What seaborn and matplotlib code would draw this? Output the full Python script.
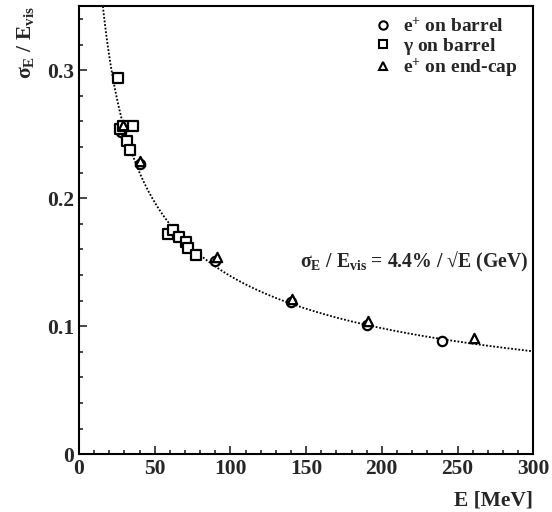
import numpy as np
import pandas as pd
import matplotlib
matplotlib.use('Agg')
import matplotlib.pyplot as plt
import seaborn as sns
from matplotlib.lines import Line2D

# -----------------------------------------------------------------------------
# data
# -----------------------------------------------------------------------------
e_barrel_E   = [28, 40, 62, 90, 140, 190, 240]
e_barrel_res = [0.252, 0.227, 0.174, 0.151, 0.119, 0.101, 0.0885]

g_barrel_E   = [26, 27, 29, 36, 32, 34, 59, 62, 66, 71, 72, 77]
g_barrel_res = [0.294, 0.254, 0.256, 0.256, 0.245, 0.2375,
                0.172, 0.175, 0.170, 0.166, 0.161, 0.1555]

e_endcap_E   = [29, 40, 91, 141, 191, 261]
e_endcap_res = [0.257, 0.229, 0.154, 0.121, 0.104, 0.0905]

fit_coeff = 0.044   # 4.4% / sqrt(E[GeV])

groups = ['e$^{+}$ on barrel', '$\\gamma$ on barrel', 'e$^{+}$ on end-cap']
markers = ['o', 's', '^']

df = pd.concat([
    pd.DataFrame({'E': e_barrel_E, 'res': e_barrel_res, 'grp': groups[0]}),
    pd.DataFrame({'E': g_barrel_E, 'res': g_barrel_res, 'grp': groups[1]}),
    pd.DataFrame({'E': e_endcap_E, 'res': e_endcap_res, 'grp': groups[2]}),
])

E_fit = np.linspace(15, 300, 400)
fit = pd.DataFrame({'E': E_fit, 'res': fit_coeff / np.sqrt(E_fit / 1000.0)})

# -----------------------------------------------------------------------------
# style
# -----------------------------------------------------------------------------
sns.set_theme(style='ticks')
plt.rcParams['font.family'] = ['Liberation Serif', 'DejaVu Serif']
plt.rcParams['font.weight'] = 'bold'
plt.rcParams['mathtext.fontset'] = 'custom'
plt.rcParams['mathtext.rm'] = 'Liberation Serif:bold'
plt.rcParams['mathtext.it'] = 'Liberation Serif:bold'
plt.rcParams['mathtext.bf'] = 'Liberation Serif:bold'
plt.rcParams['mathtext.default'] = 'rm'

fig = plt.figure(figsize=(5.52, 5.12), dpi=100)
ax = fig.add_axes([0.143, 0.113, 0.823, 0.875])

sns.lineplot(data=fit, x='E', y='res', ax=ax, color='black',
             linestyle=(0, (1, 1)), lw=1.3)

for g, m in zip(groups, markers):
    sub = df[df['grp'] == g]
    ax.errorbar(sub['E'], sub['res'], yerr=0.003, fmt='none',
                ecolor='black', elinewidth=1, zorder=2)
    sns.scatterplot(data=sub, x='E', y='res', ax=ax, marker=m, s=45,
                    facecolor='white', edgecolor='black', linewidth=1.6,
                    zorder=3)

ax.set_xlim(0, 300)
ax.set_ylim(0, 0.35)
ax.set_xticks(np.arange(0, 301, 50))
ax.set_xticks(np.arange(0, 301, 10), minor=True)
ax.set_yticks([0, 0.1, 0.2, 0.3])
ax.set_yticklabels(['0', '0.1', '0.2', '0.3'])
ax.set_yticks(np.arange(0, 0.35, 0.02), minor=True)
ax.tick_params(which='both', direction='in', top=False, right=False,
               labelsize=15.5, width=1.2)
ax.tick_params(which='major', length=6)
ax.tick_params(which='minor', length=3)
for lab in ax.get_xticklabels() + ax.get_yticklabels():
    lab.set_fontweight('bold')
for s in ax.spines.values():
    s.set_linewidth(1.5)
    s.set_color('black')

ax.set_xlabel('E [MeV]', fontsize=15.5, fontweight='bold', loc='right',
              labelpad=8)
ax.set_ylabel('$\\sigma_{E}$ / E$_{vis}$', fontsize=15.5, fontweight='bold',
              loc='top', labelpad=8)

ax.text(146, 0.150, '$\\sigma_{E}$ / E$_{vis}$ = 4.4% / \u221aE (GeV)',
        fontsize=14.2, fontweight='bold', va='center', ha='left')

handles = [Line2D([], [], marker=m, color='black', mfc='white', mew=1.5,
                  ms=6, linestyle='none') for m in markers]
ax.legend(handles, groups, loc='upper left', frameon=False,
          bbox_to_anchor=(0.61, 1.015), prop={'size': 14, 'weight': 'bold'},
          handlelength=1.0, handletextpad=0.5, labelspacing=0.0)

fig.savefig('out.png', dpi=100)
